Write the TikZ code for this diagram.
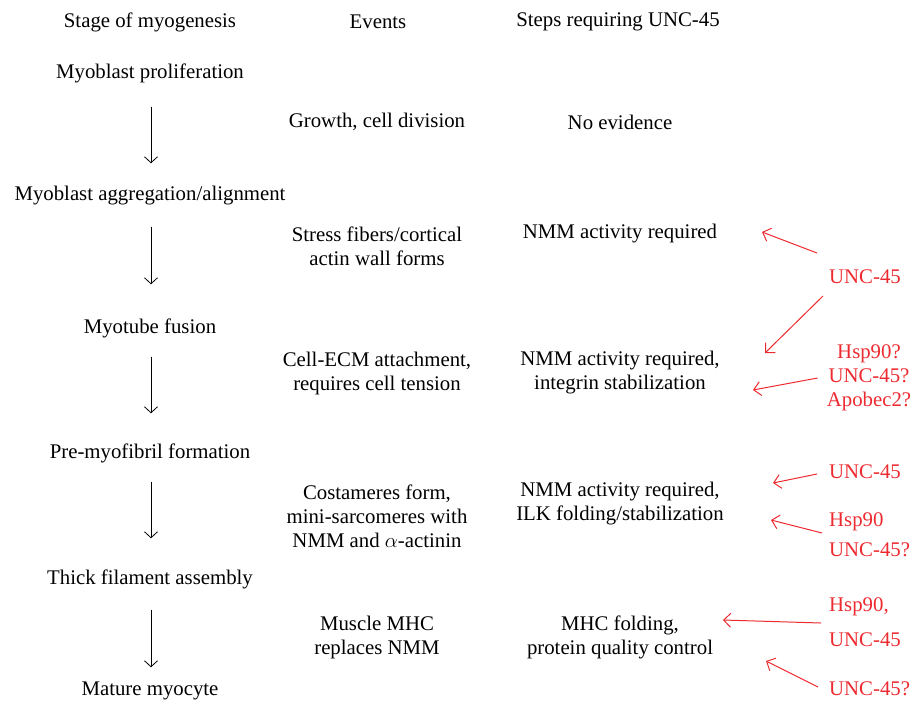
\documentclass[tikz,border=0pt]{standalone}
\usepackage{fontspec}
\setmainfont{Liberation Serif}
\usetikzlibrary{arrows.meta}
\definecolor{uncred}{RGB}{237,42,48}

\begin{document}
\begin{tikzpicture}[x=1pt, y=-1pt,
	basic/.style  = {inner sep=0pt, font=\fontsize{20.8}{24}\selectfont},
	header/.style = {basic, yshift=-2pt},
	stage/.style  = {basic, yshift=-2pt, text height=14pt, text depth=5pt},
	event/.style  = {basic, yshift=-2pt, align=center},
	need/.style   = {basic, yshift=-2pt, align=center},
	factor/.style = {basic, text=uncred, anchor=west},
	flow/.style   = {-{Straight Barb[length=6pt,width=13pt]}, line width=0.8pt},
	hint/.style   = {-{Straight Barb[length=7pt,width=14pt]}, draw=uncred, line width=1pt}]

	\useasboundingbox (0,0) rectangle (911,702);

	% column headers
	\node[header] (h1) at (150,20) {Stage of myogenesis};
	\node[header] (h2) at (378,20) {Events};
	\node[header] (h3) at (618,20) {Steps requiring UNC-45};

	% stages
	\node[stage] (s1) at (150,72)  {Myoblast proliferation};
	\node[stage] (s2) at (150,194) {Myoblast aggregation/alignment};
	\node[stage] (s3) at (150,327) {Myotube fusion};
	\node[stage] (s4) at (150,452) {Pre-myofibril formation};
	\node[stage] (s5) at (150,578) {Thick filament assembly};
	\node[stage] (s6) at (150,689) {Mature myocyte};

	% events
	\node[event] (e1) at (377,120) {Growth, cell division};
	\node[event] (e2) at (377,244) {Stress fibers/cortical\\actin wall forms};
	\node[event] (e3) at (377,371) {Cell-ECM attachment,\\requires cell tension};
	\node[event] (e4) at (377,514) {Costameres form,\\mini-sarcomeres with\\NMM and $\alpha$-actinin};
	\node[event] (e5) at (377,635) {Muscle MHC\\replaces NMM};

	% steps requiring UNC-45
	\node[need] (n1) at (620,120) {No evidence};
	\node[need] (n2) at (620,232) {NMM activity required};
	\node[need] (n3) at (620,371) {NMM activity required,\\integrin stabilization};
	\node[need] (n4) at (620,502) {NMM activity required,\\ILK folding/stabilization};
	\node[need] (n5) at (620,635) {MHC folding,\\protein quality control};

	% factors
	\node[factor] (f1) at (829,277) {UNC-45};
	\node[basic, text=uncred, align=center] (f2) at (869,378) {Hsp90?\\UNC-45?\\Apobec2?};
	\node[factor] (f3) at (829,472) {UNC-45};
	\node[factor] (f4) at (829,522) {Hsp90};
	\node[factor] (f5) at (829,550) {UNC-45?};
	\node[factor] (f6) at (829,607) {Hsp90,};
	\node[factor] (f7) at (829,640) {UNC-45};
	\node[factor] (f8) at (829,689) {UNC-45?};

	\coordinate (t1) at (762,232);
	\coordinate (t2) at (765,353);
	\coordinate (t3) at (753,390);
	\coordinate (t4) at (773,483);
	\coordinate (t5) at (771,520);
	\coordinate (t6) at (723,620);
	\coordinate (t7) at (766,661);

	\foreach \a/\b/\p/\q in {s1/s2/23/23, s2/s3/21/35, s3/s4/18/31, s4/s5/18/32, s5/s6/20/14}
	\draw[flow, shorten <=\p pt, shorten >=\q pt] ([xshift=1pt]\a.south) -- ([xshift=1pt]\b.north);

	\draw[hint] ([shift={(-12,-24)}]f1.west) -- (t1);
	\draw[hint] ([shift={(-6,19)}]f1.west) -- (t2);
	\draw[hint] ([xshift=-9pt]f2.west) -- (t3);
	\draw[hint] ([shift={(-12,2)}]f3.west) -- (t4);
	\draw[hint] ([shift={(-7,11)}]f4.west) -- (t5);
	\draw[hint] ([shift={(-8,16)}]f6.west) -- (t6);
	\draw[hint] ([shift={(-11,-2)}]f8.west) -- (t7);

\end{tikzpicture}
\end{document}
